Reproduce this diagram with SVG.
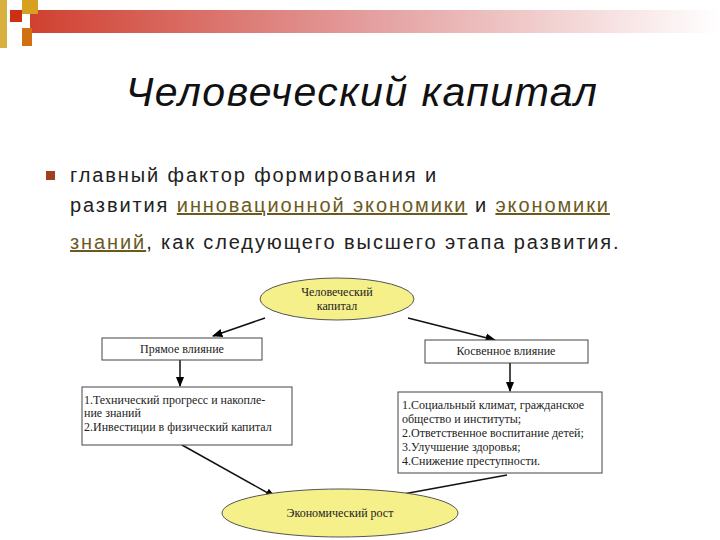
<svg xmlns="http://www.w3.org/2000/svg" width="720" height="540" viewBox="0 0 720 540">
<defs>
<linearGradient id="bar" x1="0" x2="1" y1="0" y2="0">
<stop offset="0" stop-color="#d04030"/><stop offset="0.5" stop-color="#e4a0a0"/><stop offset="1" stop-color="#ffffff"/>
</linearGradient>
<marker id="ah" viewBox="0 0 10 10" refX="9" refY="5" markerWidth="7" markerHeight="7" orient="auto"><path d="M0,1 L10,5 L0,9 z" fill="#000"/></marker>
</defs>
<style>
.s{font-family:"Liberation Serif",serif;font-size:12px;fill:#222}
.b{font-family:"Liberation Sans",Arial,sans-serif;font-size:20px;letter-spacing:1.9px;fill:#222}
.l{fill:#6b5a1e;text-decoration:underline}
.box{fill:#fff;stroke:#444;stroke-width:1}
.ell{fill:#f5f08a;stroke:#555;stroke-width:1}
.c{stroke:#111;stroke-width:1.5;fill:none;marker-end:url(#ah)}
</style>
<rect width="720" height="540" fill="#fff"/>
<g id="header">
<rect x="30" y="10" width="690" height="23" fill="url(#bar)"/>
<rect x="0" y="0" width="7" height="48" fill="#d8b040"/>
<rect x="10" y="10" width="12" height="12" fill="#cc3010"/>
<rect x="22" y="0" width="16" height="14" fill="#d8a020"/>
<rect x="22" y="28" width="10" height="18" fill="#d07010"/>
</g>
<text x="362" y="106" text-anchor="middle" font-family="Liberation Sans,Arial,sans-serif" font-size="41" letter-spacing="1.5" font-style="italic" fill="#111">Человеческий капитал</text>
<rect x="46" y="171" width="9" height="9" fill="#a04020"/>
<text class="b" x="70" y="182">главный фактор формирования и</text>
<text class="b" x="70" y="212">развития <tspan class="l">инновационной экономики</tspan> и <tspan class="l">экономики</tspan></text>
<text class="b" x="70" y="249"><tspan class="l">знаний</tspan>, как следующего высшего этапа развития.</text>
<g id="connectors">
<line class="c" x1="265" y1="318" x2="213" y2="336"/>
<line class="c" x1="408" y1="318" x2="495" y2="340"/>
<line class="c" x1="180" y1="360" x2="180" y2="386"/>
<line class="c" x1="510" y1="363" x2="510" y2="391"/>
<line class="c" x1="182" y1="445" x2="275" y2="497"/>
<line class="c" x1="507" y1="475" x2="387" y2="497"/>
</g>
<g id="hc"><ellipse class="ell" cx="337" cy="299" rx="77" ry="21"/>
<text class="s" x="337" y="296" text-anchor="middle">Человеческий</text>
<text class="s" x="337" y="310" text-anchor="middle">капитал</text></g>
<g id="direct"><rect class="box" x="102" y="338" width="160" height="22"/>
<text class="s" x="182" y="353" text-anchor="middle">Прямое влияние</text></g>
<g id="indirect"><rect class="box" x="425" y="340" width="163" height="23"/>
<text class="s" x="506" y="355" text-anchor="middle">Косвенное влияние</text></g>
<g id="dlist"><rect class="box" x="82" y="387" width="210" height="58"/>
<text class="s" x="84" y="404">1.Технический прогресс и накопле-</text>
<text class="s" x="84" y="417">ние знаний</text>
<text class="s" x="84" y="431">2.Инвестиции в физический капитал</text></g>
<g id="ilist"><rect class="box" x="398" y="392" width="204" height="81"/>
<text class="s" x="402" y="409">1.Социальный климат, гражданское</text>
<text class="s" x="402" y="423">общество и институты;</text>
<text class="s" x="402" y="437">2.Ответственное воспитание детей;</text>
<text class="s" x="402" y="451">3.Улучшение здоровья;</text>
<text class="s" x="402" y="465">4.Снижение преступности.</text></g>
<g id="growth"><ellipse class="ell" cx="340" cy="513" rx="118" ry="24"/>
<text class="s" x="340" y="517" text-anchor="middle">Экономический рост</text></g>
</svg>
